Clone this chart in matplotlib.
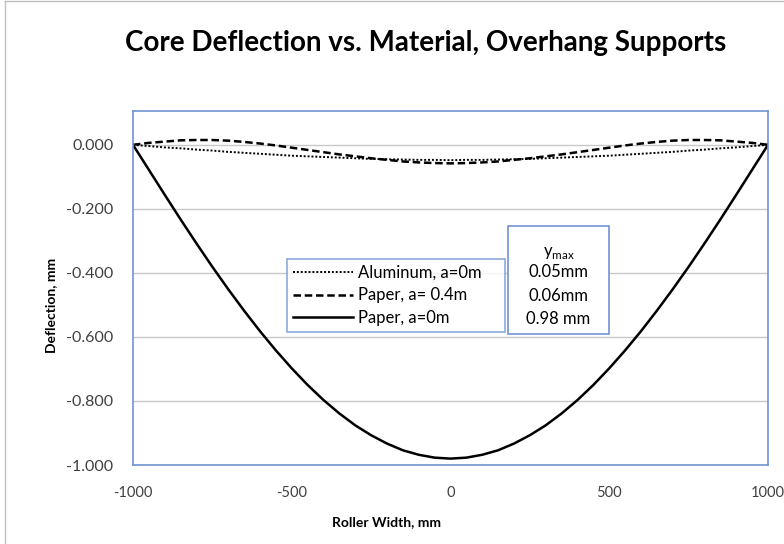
import numpy as np
import matplotlib.pyplot as plt
from matplotlib.patches import Rectangle
from matplotlib.lines import Line2D

plt.rcParams['font.family'] = ['Lato', 'DejaVu Sans']
plt.rcParams['axes.unicode_minus'] = False

# roller position, mm
x = list(range(-1000, 1001, 50))

# deflection, mm
aluminum = [0.000, -0.004, -0.008, -0.011, -0.015, -0.018, -0.022, -0.025, -0.028, -0.031,
            -0.034, -0.036, -0.038, -0.040, -0.042, -0.044, -0.045, -0.046, -0.047, -0.047,
            -0.048,
            -0.047, -0.047, -0.046, -0.045, -0.044, -0.042, -0.040, -0.038, -0.036, -0.034,
            -0.031, -0.028, -0.025, -0.022, -0.018, -0.015, -0.011, -0.008, -0.004, 0.000]
paper_04 = [0.000, 0.006, 0.010, 0.014, 0.015, 0.015, 0.013, 0.009, 0.004, -0.002,
            -0.009, -0.016, -0.023, -0.030, -0.036, -0.042, -0.047, -0.052, -0.055, -0.057,
            -0.058,
            -0.057, -0.055, -0.052, -0.047, -0.042, -0.036, -0.030, -0.023, -0.016, -0.009,
            -0.002, 0.004, 0.009, 0.013, 0.015, 0.015, 0.014, 0.010, 0.006, 0.000]
paper_0 = [0.000, -0.078, -0.156, -0.233, -0.308, -0.381, -0.451, -0.518, -0.582, -0.642,
           -0.698, -0.750, -0.797, -0.839, -0.876, -0.907, -0.933, -0.954, -0.968, -0.977,
           -0.980,
           -0.977, -0.968, -0.954, -0.933, -0.907, -0.876, -0.839, -0.797, -0.750, -0.698,
           -0.642, -0.582, -0.518, -0.451, -0.381, -0.308, -0.233, -0.156, -0.078, 0.000]

labels = ['Aluminum, a=0m', 'Paper, a= 0.4m', 'Paper, a=0m']
ymax_text = ['0.05mm', '0.06mm', '0.98 mm']

blue = '#7094d4'

fig = plt.figure(figsize=(7.84, 5.44), dpi=100)
ax = fig.add_axes([0.1696, 0.1452, 0.81, 0.651])

ax.plot(x, aluminum, color='black', linestyle=(0, (1, 1)), linewidth=1.4, label=labels[0])
ax.plot(x, paper_04, color='black', linestyle=(0, (3, 1.5)), linewidth=1.8, label=labels[1])
ax.plot(x, paper_0, color='black', linestyle='-', linewidth=1.8, label=labels[2])

ax.set_xlim(-1000, 1000)
ax.set_ylim(-1.0, 0.106)
ax.set_xticks([-1000, -500, 0, 500, 1000])
ax.set_yticks([0, -0.2, -0.4, -0.6, -0.8, -1.0])
ax.set_yticklabels(['0.000', '-0.200', '-0.400', '-0.600', '-0.800', '-1.000'])
ax.tick_params(length=0, colors='#404040', labelcolor='#404040')
ax.tick_params(axis='x', pad=15, labelsize=10.5)
ax.tick_params(axis='y', pad=14, labelsize=11.5)
ax.grid(axis='y', color='#c8c8c8', linewidth=1)
ax.set_axisbelow(True)
for s in ax.spines.values():
    s.set_color(blue)
    s.set_linewidth(1.2)

ax.set_xlabel('Roller Width, mm', fontsize=10, fontweight='bold')
ax.xaxis.set_label_coords(0.40, -0.145)
ax.set_ylabel('Deflection, mm', fontsize=10, fontweight='bold')
ax.yaxis.set_label_coords(-0.119, 0.45)
fig.suptitle('Core Deflection vs. Material, Overhang Supports', fontsize=20,
             fontweight='bold', x=0.543, y=0.945)

leg = ax.legend(loc='lower left', bbox_to_anchor=(0.2425, 0.3757, 0.3433, 0.212),
                mode='expand', fontsize=12, frameon=True, fancybox=False,
                handlelength=3.6, handletextpad=0.3, borderaxespad=0, labelspacing=0.4,
                borderpad=0.35)
leg.get_frame().set_edgecolor(blue)
leg.get_frame().set_linewidth(1.2)

# y max box
ax.add_patch(Rectangle((0.5906, 0.370), 0.159, 0.305, transform=ax.transAxes,
                       facecolor='white', edgecolor=blue, linewidth=1.2, zorder=5))
ax.text(0.670, 0.60, r'y$_{\mathregular{max}}$', transform=ax.transAxes, ha='center',
        va='center', fontsize=12, zorder=6)
for i, t in enumerate(ymax_text):
    ax.text(0.670, 0.545 - i * 0.067, t, transform=ax.transAxes, ha='center',
            va='center', fontsize=12, zorder=6)

# outer chart border
fig.add_artist(Line2D([0.0065, 0.0065], [0, 0.998], transform=fig.transFigure, color='#c0c0c0', linewidth=1))
fig.add_artist(Line2D([0.0065, 1], [0.998, 0.998], transform=fig.transFigure, color='#c0c0c0', linewidth=1))

fig.savefig('out.png', dpi=100)
